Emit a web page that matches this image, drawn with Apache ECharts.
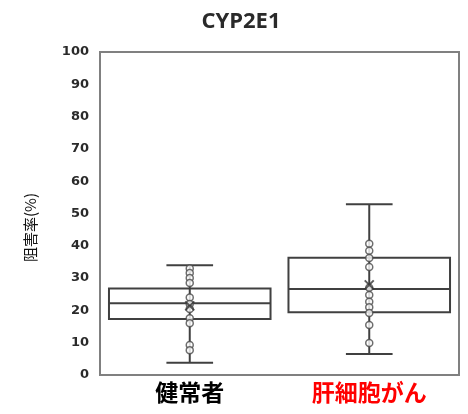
<!DOCTYPE html>
<html>
<head>
<meta charset="utf-8">
<script src="https://cdn.jsdelivr.net/npm/echarts@6/dist/echarts.min.js"></script>
<style>
html,body{margin:0;padding:0;background:#fff;}
#chart{width:468px;height:414px;}
</style>
</head>
<body>
<div id="chart"></div>
<script>
// Groups
var categories = ['健常者', '肝細胞がん'];
var categoryColors = ['#000000', '#ff0000'];

// Box summaries: [min, Q1, median, Q3, max]
var healthyBox = [3.8, 17.3, 22.2, 26.8, 34.0];
var hccBox = [6.5, 19.4, 26.6, 36.3, 52.9];

// Individual measurements
var healthyPoints = [33.0, 31.6, 30.0, 28.5, 24.0, 22.0, 20.4, 17.6, 16.0, 9.3, 7.7];
var hccPoints = [40.6, 38.5, 36.2, 33.4, 27.0, 24.8, 22.7, 21.0, 19.2, 15.5, 9.9];

// Group means
var means = [21.4, 27.9];

// Y axis ticks
var yMin = 0, yMax = 100, yStep = 10;

var chart = echarts.init(document.getElementById('chart'));

var boxData = [[0].concat(healthyBox), [1].concat(hccBox)];
var pointData = healthyPoints.map(function (v) { return [0, v]; })
  .concat(hccPoints.map(function (v) { return [1, v]; }));
var meanData = means.map(function (v, i) { return [i, v]; });

var lineColor = '#404040';

function renderBox(params, api) {
  var idx = api.value(0);
  var band = api.size([1, 0])[0];
  var boxW = band * 0.9;
  var capW = band * 0.26;
  var pMin = api.coord([idx, api.value(1)]);
  var pQ1 = api.coord([idx, api.value(2)]);
  var pMed = api.coord([idx, api.value(3)]);
  var pQ3 = api.coord([idx, api.value(4)]);
  var pMax = api.coord([idx, api.value(5)]);
  var cx = pMed[0];
  var st = { stroke: lineColor, lineWidth: 2, fill: null };
  return {
    type: 'group',
    children: [
      { type: 'line', shape: { x1: cx, y1: pMax[1], x2: cx, y2: pMin[1] }, style: st },
      { type: 'rect', shape: { x: cx - boxW / 2, y: pQ3[1], width: boxW, height: pQ1[1] - pQ3[1] },
        style: { stroke: lineColor, lineWidth: 2, fill: '#ffffff' } },
      { type: 'line', shape: { x1: cx - boxW / 2, y1: pMed[1], x2: cx + boxW / 2, y2: pMed[1] }, style: st },
      { type: 'line', shape: { x1: cx - capW / 2, y1: pMax[1], x2: cx + capW / 2, y2: pMax[1] }, style: st },
      { type: 'line', shape: { x1: cx - capW / 2, y1: pMin[1], x2: cx + capW / 2, y2: pMin[1] }, style: st },
      { type: 'line', shape: { x1: cx, y1: pQ3[1], x2: cx, y2: pQ1[1] }, style: st }
    ]
  };
}

var option = {
  backgroundColor: '#ffffff',
  animation: false,
  title: {
    text: 'CYP2E1',
    left: 236,
    textAlign: 'center',
    top: 6,
    textStyle: { fontFamily: 'Open Sans', fontWeight: 'bold', fontSize: 22, color: '#2a2a2a' }
  },
  grid: {
    left: 100, right: 9, top: 52, bottom: 39,
    show: true, borderColor: '#808080', borderWidth: 2, backgroundColor: '#ffffff'
  },
  xAxis: {
    type: 'category',
    data: categories.map(function (c, i) {
      return { value: c, textStyle: { color: categoryColors[i] } };
    }),
    axisLine: { show: false },
    axisTick: { show: false },
    axisLabel: {
      fontFamily: 'Noto Sans CJK JP', fontWeight: 'bold', fontSize: 23, margin: 6
    },
    splitLine: { show: false }
  },
  yAxis: {
    type: 'value',
    min: yMin, max: yMax, interval: yStep,
    name: '阻害率(%)',
    nameLocation: 'middle',
    nameGap: 62,
    nameTextStyle: { fontFamily: 'Noto Sans CJK JP', fontSize: 15, color: '#111', padding: [0, 0, 0, -28] },
    axisLine: { show: false },
    axisTick: { show: false },
    splitLine: { show: false },
    axisLabel: {
      fontFamily: 'DejaVu Sans', fontWeight: 'bold', fontSize: 13, color: '#2a2a2a', margin: 11
    }
  },
  series: [
    {
      type: 'custom',
      renderItem: renderBox,
      encode: { x: 0, y: [1, 2, 3, 4, 5] },
      data: boxData,
      z: 2
    },
    {
      type: 'scatter',
      data: pointData,
      symbol: 'circle',
      symbolSize: 7,
      itemStyle: { color: '#ffffff', borderColor: '#4a4a4a', borderWidth: 1.5 },
      z: 3
    },
    {
      type: 'scatter',
      data: meanData,
      symbol: 'path://M0,0L10,10M10,0L0,10',
      symbolSize: 9,
      itemStyle: { color: 'rgba(0,0,0,0)', borderColor: '#333', borderWidth: 2 },
      z: 4
    }
  ]
};

chart.setOption(option);
</script>
</body>
</html>
